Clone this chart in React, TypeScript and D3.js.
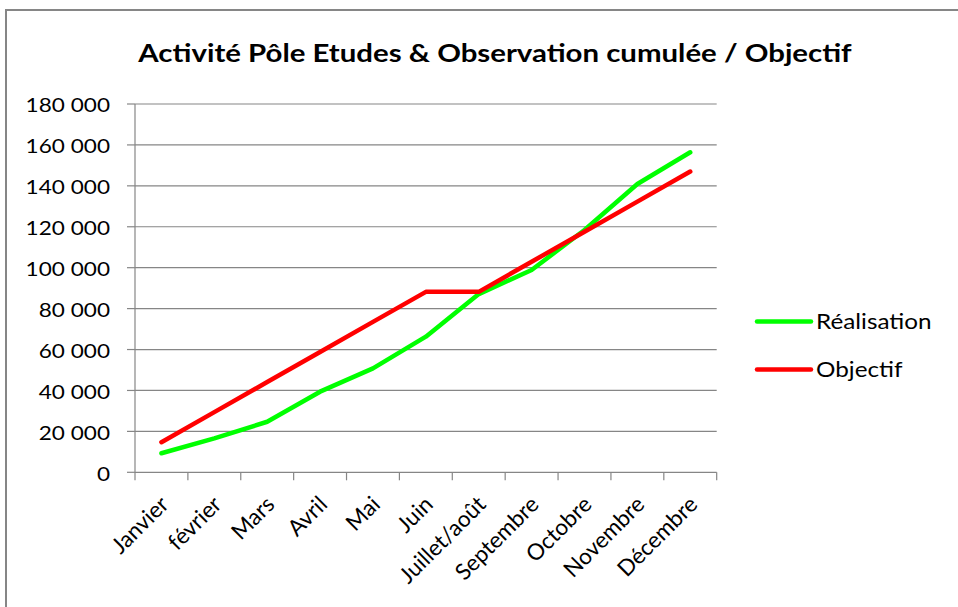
import React, { useEffect, useRef } from 'react';
import * as d3 from 'd3';

const months = ['Janvier', 'février', 'Mars', 'Avril', 'Mai', 'Juin', 'Juillet/août', 'Septembre', 'Octobre', 'Novembre', 'Décembre'];
const realisation = [9300, 16600, 24700, 39400, 50800, 66300, 87100, 98900, 118400, 140900, 156400];
const objectif = [14700, 29400, 44100, 58800, 73500, 88200, 88200, 102900, 117600, 132300, 147000];
const yTicks = [0, 20000, 40000, 60000, 80000, 100000, 120000, 140000, 160000, 180000];

const seriesList = [
  { name: 'Réalisation', values: realisation, color: '#00ff00' },
  { name: 'Objectif', values: objectif, color: '#ff0000' },
];

export default function App() {
  const ref = useRef<SVGSVGElement>(null);

  useEffect(() => {
    const svg = d3.select(ref.current);
    svg.selectAll('*').remove();
    const font = 'Lato, Carlito, Calibri, sans-serif';
    const sx = 1.13; // the source text is a little wider than Lato

    const left = 135, right = 716.7, top = 104, bottom = 472.3;
    const x = d3.scaleBand().domain(months).range([left, right]);
    const y = d3.scaleLinear().domain([0, 180000]).range([bottom, top]);
    const fmt = (v: number) => d3.format(',')(v).replace(/,/g, ' ');
    const grey = '#868686';

    // chart border
    svg.append('rect').attr('x', 6).attr('y', 10).attr('width', 960).attr('height', 610)
      .attr('fill', 'white').attr('stroke', grey).attr('stroke-width', 2);

    svg.append('text').attr('transform', `translate(495,62) scale(${sx * 1.02},1)`).attr('text-anchor', 'middle')
      .attr('font-family', font).attr('font-weight', 'bold').attr('font-size', 25.5)
      .attr('fill', '#000').text('Activité Pôle Etudes & Observation cumulée / Objectif');

    // grid
    svg.append('g').selectAll('line').data(yTicks.slice(1)).enter().append('line')
      .attr('x1', left).attr('x2', right).attr('y1', d => y(d)).attr('y2', d => y(d))
      .attr('stroke', grey).attr('stroke-width', 1.2);

    // y axis
    const yg = svg.append('g');
    yg.append('line').attr('x1', left).attr('x2', left).attr('y1', top).attr('y2', bottom)
      .attr('stroke', grey).attr('stroke-width', 1.2);
    yg.selectAll('line.tk').data(yTicks).enter().append('line').attr('class', 'tk')
      .attr('x1', left - 8).attr('x2', left).attr('y1', d => y(d)).attr('y2', d => y(d))
      .attr('stroke', grey).attr('stroke-width', 1.2);
    yg.selectAll('text').data(yTicks).enter().append('text')
      .attr('transform', d => `translate(110,${y(d)}) scale(${sx},1)`)
      .attr('text-anchor', 'end').attr('dy', '0.42em')
      .attr('font-family', font).attr('font-size', 20).attr('fill', '#000').text(d => fmt(d));

    // x axis with ticks at band boundaries
    const xg = svg.append('g');
    xg.append('line').attr('x1', left).attr('x2', right).attr('y1', bottom).attr('y2', bottom)
      .attr('stroke', grey).attr('stroke-width', 1.2);
    const bounds = months.map(m => x(m) as number).concat([right]);
    xg.selectAll('line.tk').data(bounds).enter().append('line').attr('class', 'tk')
      .attr('x1', d => d).attr('x2', d => d).attr('y1', bottom).attr('y2', bottom + 8)
      .attr('stroke', grey).attr('stroke-width', 1.2);
    xg.selectAll('text').data(months).enter().append('text')
      .attr('transform', d => `translate(${(x(d) as number) + x.bandwidth() / 2 + 3},${bottom + 28}) rotate(-45)`)
      .attr('text-anchor', 'end').attr('dy', '0.35em')
      .attr('font-family', font).attr('font-size', 22.5).attr('fill', '#000').text(d => d);

    const line = d3.line<number>()
      .x((_, i) => (x(months[i]) as number) + x.bandwidth() / 2)
      .y(d => y(d));

    seriesList.forEach(s => {
      svg.append('path').datum(s.values).attr('d', line).attr('fill', 'none')
        .attr('stroke', s.color).attr('stroke-width', 4.5).attr('stroke-linejoin', 'round').attr('stroke-linecap', 'round');
    });

    // legend
    const lg = svg.append('g').selectAll('g').data(seriesList).enter().append('g')
      .attr('transform', (_, i) => `translate(757,${321.5 + i * 48})`);
    lg.append('line').attr('x1', 0).attr('x2', 54).attr('stroke', d => d.color).attr('stroke-width', 4.5).attr('stroke-linecap', 'round');
    lg.append('text').attr('transform', `translate(59,0) scale(${sx},1)`).attr('dy', '0.36em')
      .attr('font-family', font).attr('font-size', 21.5).attr('fill', '#000').text(d => d.name);
  }, []);

  return <svg ref={ref} width={958} height={607} style={{ position: 'absolute', left: 0, top: 0 }} />;
}
